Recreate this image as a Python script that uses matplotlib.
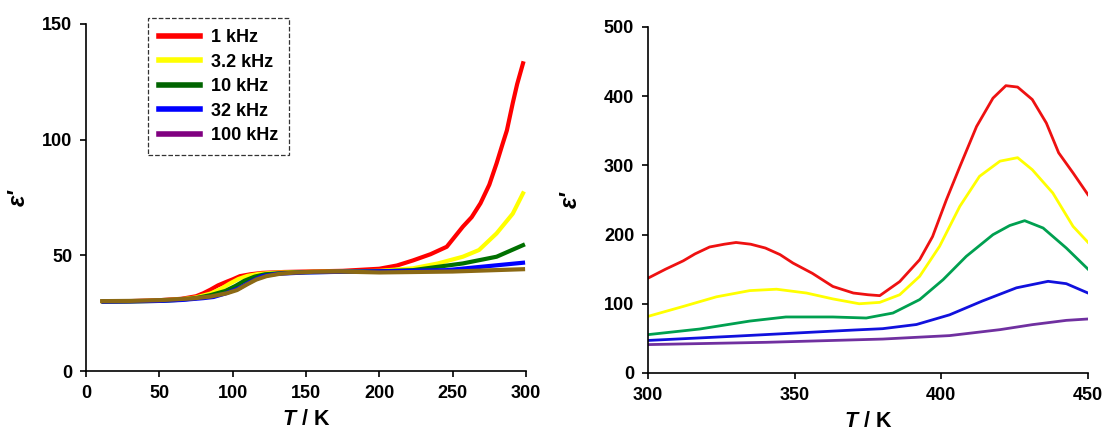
import numpy as np
import matplotlib.pyplot as plt
from matplotlib.lines import Line2D

plt.rcParams["font.family"] = "Liberation Sans"
plt.rcParams["font.weight"] = "bold"
plt.rcParams["font.size"] = 13
plt.rcParams["mathtext.fontset"] = "custom"
plt.rcParams["mathtext.it"] = "Liberation Sans:italic:bold"

# ---------------- left panel: 12-300 K ----------------
freqs = ["1 kHz", "3.2 kHz", "10 kHz", "32 kHz", "100 kHz"]

T1k = [12, 30, 50, 65, 75, 80, 85, 90, 96, 100, 105, 112, 120, 135, 150, 175, 200, 212,
       223, 235, 246, 257, 263, 269, 275, 280, 284, 287, 291, 294, 298]
e1k = [30, 30.2, 30.6, 31.2, 32.3, 33.6, 35.2, 37.0, 38.6, 39.6, 41.0, 41.8, 42.4, 42.8,
       43.0, 43.3, 44.2, 45.6, 47.8, 50.5, 53.7, 62.4, 66.5, 72.5, 80.5, 89.8, 98, 104,
       115.8, 124, 133]

T3k = [12, 30, 50, 65, 75, 85, 92, 98, 104, 110, 118, 130, 150, 175, 200, 223, 240, 257,
       268, 280, 291, 298]
e3k = [30, 30.1, 30.4, 31.0, 31.8, 33.5, 35.5, 37.8, 39.8, 41.1, 42.0, 42.5, 42.8, 43.0,
       43.3, 44.4, 46.5, 49.4, 52.3, 59.5, 68, 76.8]

T10k = [12, 30, 50, 65, 75, 85, 95, 102, 108, 115, 122, 135, 150, 175, 200, 223, 257,
        280, 298]
e10k = [30, 30.1, 30.3, 30.8, 31.5, 32.8, 34.6, 36.8, 39.0, 40.8, 41.8, 42.4, 42.7, 42.9,
        43.1, 43.6, 46.5, 49.4, 54.4]

T32k = [12, 30, 50, 65, 80, 87, 95, 105, 112, 120, 130, 150, 175, 200, 246, 298]
e32k = [30, 30.1, 30.3, 30.7, 31.5, 32.0, 33.5, 36.0, 38.6, 41.0, 42.0, 42.6, 42.9, 43.1,
        43.6, 46.8]

T100k = [11, 30, 50, 73, 85, 96, 103, 110, 116, 123, 132, 141, 155, 173, 200, 250, 298]
e100k = [30.2, 30.3, 30.6, 31.4, 32.2, 33.6, 35.0, 37.5, 39.5, 41.0, 42.0, 42.5, 42.9,
         43.0, 42.6, 43.0, 44.0]

# ---------------- right panel: 300-450 K ----------------
Tr_1k = [300, 306, 312, 316, 321, 326, 330, 335, 340, 345, 349.4, 356, 363, 370, 375, 379,
         385.8, 392.6, 397, 401.7, 406.3, 412, 417.6, 422, 426, 431, 435.8, 440, 444.9, 450]
er_1k = [137, 150, 162, 172, 182, 186, 188.5, 186, 180.5, 171, 158.8, 144, 125, 115.5, 113,
         111.7, 132, 163.6, 197, 250, 298, 356, 397, 415, 413, 395, 361, 318, 289, 257.5]

Tr_3k = [300, 311.9, 323.3, 334.7, 343.8, 354, 363, 372, 379, 385.8, 392.6, 399.4, 406.3,
         413, 420, 426, 431, 438, 444.9, 450]
er_3k = [81.8, 96, 110, 119, 121, 115.5, 107, 100, 102, 113, 139.6, 183, 240.7, 284, 306,
         311, 293.6, 260, 211.8, 188.7]

Tr_10k = [300, 317.6, 334.7, 347, 363, 374.4, 383.5, 392.6, 400.6, 408.5, 417.6, 423.3,
          428.4, 434.7, 442.6, 450]
er_10k = [55.4, 63.5, 75, 80.9, 80.9, 79.4, 86.6, 106, 134.8, 168.5, 199.8, 213, 220, 209.4,
          180.5, 150]

Tr_32k = [300, 329, 351.7, 370, 380, 391.5, 402.8, 414, 425.6, 436.4, 442.6, 450]
er_32k = [47, 53, 58, 62, 64, 70, 84, 104, 123, 132.4, 129, 115.5]

Tr_100k = [300, 340.3, 380, 402.8, 420, 431, 442.6, 450]
er_100k = [41, 44.3, 49, 54, 62.6, 69.8, 76, 78]

left_colors = ["#ff0000", "#ffff00", "#007000", "#0000ff", "#8b6914"]
legend_colors = ["#ff0000", "#ffff00", "#006400", "#0000ff", "#800080"]
right_colors = ["#ee1111", "#ffff00", "#00a050", "#1111dd", "#7030a0"]

fig = plt.figure(figsize=(11.11, 4.30), dpi=100)
ax1 = fig.add_axes([0.0774, 0.1372, 0.396, 0.807])
ax2 = fig.add_axes([0.5833, 0.1326, 0.396, 0.805])

left_data = [(T1k, e1k), (T3k, e3k), (T10k, e10k), (T32k, e32k), (T100k, e100k)]
# lowest frequency drawn first so the others sit on top of it
for (t, e), c in zip(left_data, left_colors):
    ax1.plot(t, e, color=c, lw=3)

right_data = [(Tr_1k, er_1k), (Tr_3k, er_3k), (Tr_10k, er_10k), (Tr_32k, er_32k),
              (Tr_100k, er_100k)]
for (t, e), c in zip(right_data, right_colors):
    ax2.plot(t, e, color=c, lw=2)

ax1.set_xlim(0, 300)
ax1.set_ylim(0, 150)
ax1.set_xticks(np.arange(0, 301, 50))
ax1.set_yticks(np.arange(0, 151, 50))
ax2.set_xlim(300, 450)
ax2.set_ylim(0, 500)
ax2.set_xticks(np.arange(300, 451, 50))
ax2.set_yticks(np.arange(0, 501, 100))

for ax, pad in ((ax1, 9), (ax2, 16)):
    for s in ("top", "right"):
        ax.spines[s].set_visible(False)
    for s in ("left", "bottom"):
        ax.spines[s].set_linewidth(1.2)
    ax.tick_params(direction="out", length=4, width=1.2, labelsize=13, pad=6)
    ax.set_xlabel("$T$ / K", fontsize=15.5, fontweight="bold", labelpad=5)
    ax.set_ylabel("ε'", fontsize=17, fontweight="bold", fontstyle="italic", labelpad=pad)

handles = [Line2D([], [], color=c, lw=4) for c in legend_colors]
leg = ax1.legend(handles, freqs, loc="upper left", bbox_to_anchor=(0.141, 1.017),
                 borderaxespad=0, fancybox=False, fontsize=13, handlelength=2.3,
                 labelspacing=0.42, borderpad=0.6, handletextpad=0.6)
leg.get_frame().set_linestyle("--")
leg.get_frame().set_edgecolor("black")
leg.get_frame().set_linewidth(0.9)

plt.savefig("out.png", dpi=100)
